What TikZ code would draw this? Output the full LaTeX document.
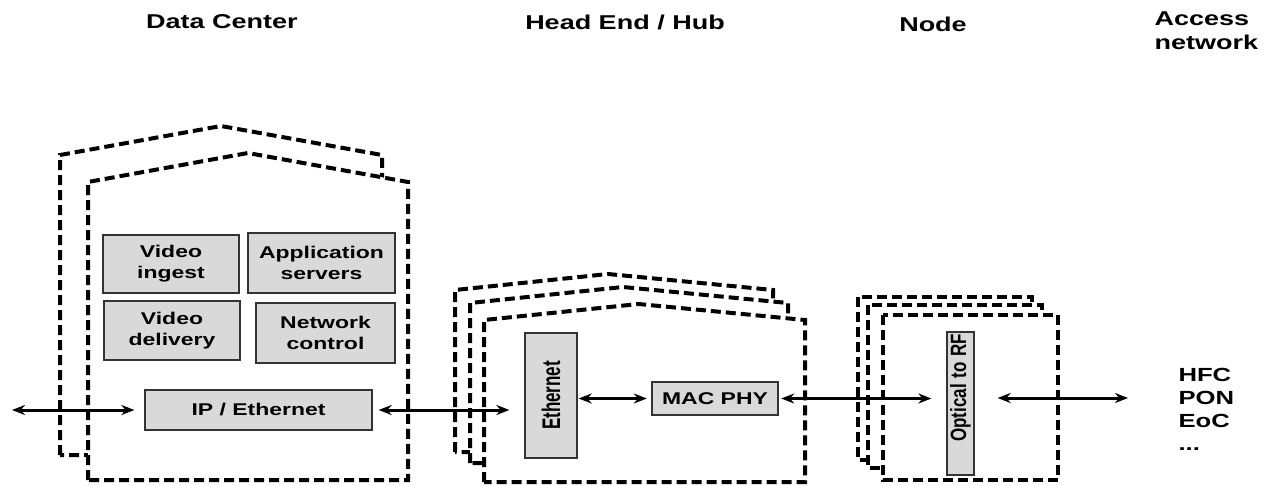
\documentclass[tikz,border=0pt]{standalone}
\usepackage{fontspec}
\usepackage{graphicx}
\usetikzlibrary{arrows.meta}
\newfontfamily\widefont{Liberation Sans Bold}[FakeStretch=1.35]
\newfontfamily\plainfont{Liberation Sans Bold}

\tikzset{
  encl/.style={draw, line width=4pt, dash pattern=on 10pt off 5pt, fill=white, line join=miter},
  blk/.style={draw=black!80, fill=gray!30, line width=1.3pt, inner sep=0pt, align=center,
    font=\widefont\fontsize{17}{21}\selectfont},
  vblk/.style={blk, rotate=90, font=\plainfont\fontsize{17}{21}\selectfont},
  head/.style={font=\widefont\fontsize{20}{24}\selectfont, align=left},
  arr/.style={{Stealth[length=13pt,width=10pt]}-{Stealth[length=13pt,width=10pt]}, line width=3pt}
}

\begin{document}
\begin{tikzpicture}[x=1pt,y=-1pt]
\useasboundingbox (0,0) rectangle (1270,485);

% headings
\node[head] (hdc) at (222,22) {Data Center};
\node[head] (hhe) at (625,22) {Head End / Hub};
\node[head] (hnd) at (933,24) {Node};
\node[head, anchor=west] (han) at (1151,31) {Access\\network};

% data center
\foreach \l/\t/\r/\b in {60/155/382/455, 88/182/408/480}
  \draw[encl] (\l,\b) -- (\l,\t) -- ({(\l+\r)/2},\t-29) -- (\r,\t) -- (\r,\b) -- cycle;
\node[blk, minimum width=136pt, minimum height=58pt] (ing) at (171,264) {Video\\ingest};
\node[blk, minimum width=147pt, minimum height=60pt] (app) at (321.5,263) {Application\\servers};
\node[blk, minimum width=136pt, minimum height=59pt] (del) at (172,330.5) {Video\\delivery};
\node[blk, minimum width=139pt, minimum height=60pt] (ctl) at (325.5,333) {Network\\control};
\node[blk, minimum width=227pt, minimum height=40pt] (ip) at (258.5,410) {IP / Ethernet};

% head end / hub
\foreach \l/\t/\r/\b in {455/290/773/452, 470/303/788/463, 484/320/805/482}
  \draw[encl] (\l,\b) -- (\l,\t) -- ({(\l+\r)/2-6},\t-16) -- (\r,\t) -- (\r,\b) -- cycle;
\node[vblk, minimum width=125pt, minimum height=52pt] (eth) at (551,395.5) {\scalebox{1}[1.5]{Ethernet}};
\node[blk, line width=2.4pt, minimum width=126pt, minimum height=33pt] (mac) at (715,398.5) {MAC PHY};

% node
\foreach \l/\t/\r/\b in {858/297/1032/460, 868/305/1042/468, 883/315/1058/480}
  \draw[encl] (\l,\t) rectangle (\r,\b);
\node[vblk, minimum width=143pt, minimum height=27pt, text width=139pt, inner xsep=2pt, align=right]
  (opt) at (960.5,403.5) {\scalebox{1}[1.3]{Optical to RF}};

% access network
\node[head, anchor=north west, font=\widefont\fontsize{19}{23}\selectfont] (acc) at (1175,365) {HFC\\PON\\EoC\\...};

% links
\coordinate (lft) at (12,410);
\coordinate (rgt) at (1128,398);
\draw[arr, shorten >=10pt] (lft) -- (ip.west);
\draw[arr, shorten <=6pt, shorten >=15pt] (ip.east) -- (ip.east -| eth.north);
\draw[arr, shorten <=1pt, shorten >=4pt] (eth.south |- mac.west) -- (mac.west);
\draw[arr, shorten <=2pt, shorten >=15pt] (mac.east) -- (mac.east -| opt.north);
\draw[arr, shorten <=23pt] (rgt -| opt.south) -- (rgt);
\end{tikzpicture}
\end{document}
